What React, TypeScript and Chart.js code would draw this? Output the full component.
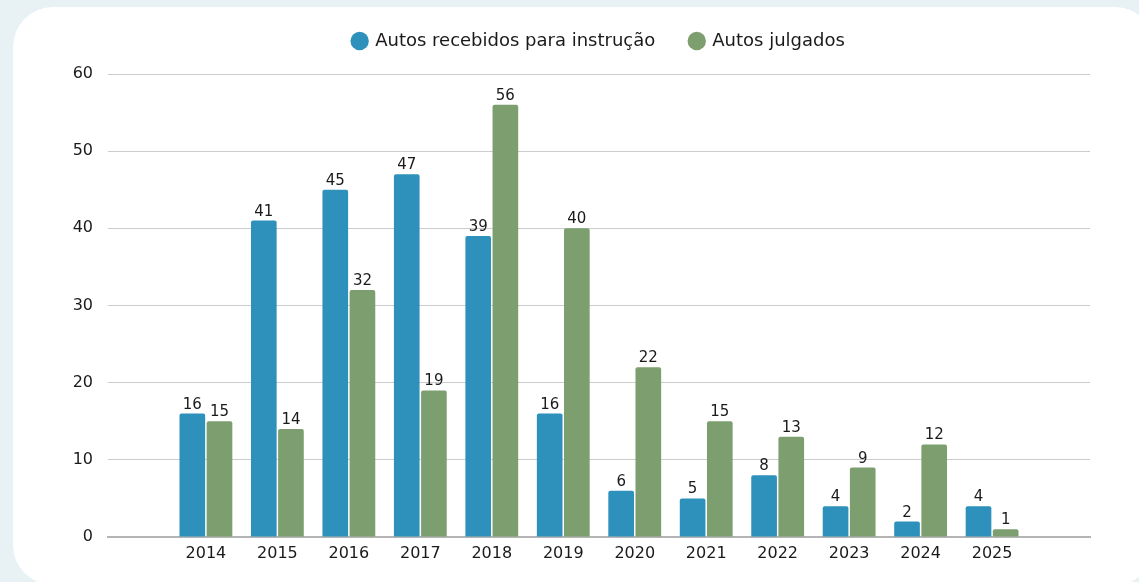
import React, { useEffect, useRef } from 'react';
import { Chart, registerables } from 'chart.js';

Chart.register(...registerables);

const YEARS = ['2014', '2015', '2016', '2017', '2018', '2019', '2020', '2021', '2022', '2023', '2024', '2025'];
const RECEBIDOS = [16, 41, 45, 47, 39, 16, 6, 5, 8, 4, 2, 4];
const JULGADOS = [15, 14, 32, 19, 56, 40, 22, 15, 13, 9, 12, 1];
const SERIES_NAMES = ['Autos recebidos para instrução', 'Autos julgados'];
const Y_MIN = 0;
const Y_MAX = 60;
const Y_STEP = 10;

const FONT = "'DejaVu Sans', sans-serif";
const BLUE = '#2e91bb';
const GREEN = '#7d9e6f';
const TEXT = '#1a1a1a';

const valueLabels = {
  id: 'valueLabels',
  afterDatasetsDraw(chart: any) {
    const ctx = chart.ctx;
    ctx.save();
    ctx.font = `15px ${FONT}`;
    ctx.fillStyle = TEXT;
    ctx.textAlign = 'center';
    ctx.textBaseline = 'alphabetic';
    chart.data.datasets.forEach((ds: any, di: number) => {
      const meta = chart.getDatasetMeta(di);
      meta.data.forEach((el: any, i: number) => {
        const v = ds.data[i].y;
        ctx.fillText(String(v), el.x, el.y - 5);
      });
    });
    ctx.restore();
  },
};

const legendHeight = {
  id: 'legendHeight',
  afterInit(chart: any) {
    const lg = chart.legend;
    if (!lg) return;
    const fit = lg.fit;
    lg.fit = function () {
      fit.call(this);
      this.height = 77;
    };
  },
};

export default function App() {
  const ref = useRef<HTMLCanvasElement | null>(null);

  useEffect(() => {
    if (!ref.current) return;
    const chart = new Chart(ref.current, {
      type: 'bar',
      data: {
        datasets: [
          {
            label: SERIES_NAMES[0],
            data: RECEBIDOS.map((v, i) => ({ x: i, y: v })),
            backgroundColor: BLUE,
            borderWidth: 0,
            borderRadius: 2,
            borderSkipped: 'bottom',
            categoryPercentage: 0.76,
            barPercentage: 0.945,
          },
          {
            label: SERIES_NAMES[1],
            data: JULGADOS.map((v, i) => ({ x: i, y: v })),
            backgroundColor: GREEN,
            borderWidth: 0,
            borderRadius: 2,
            borderSkipped: 'bottom',
            categoryPercentage: 0.76,
            barPercentage: 0.945,
          },
        ],
      } as any,
      options: {
        animation: false,
        responsive: false,
        devicePixelRatio: 1,
        layout: { padding: { left: 0, right: 49, top: -3, bottom: 0 } },
        plugins: {
          legend: {
            position: 'top',
            fullSize: false,
            labels: {
              usePointStyle: true,
              pointStyle: 'circle',
              boxWidth: 13,
              boxHeight: 13,
              padding: 35,
              color: TEXT,
              font: { family: FONT, size: 18 },
            },
          },
          tooltip: { enabled: false },
        },
        scales: {
          x: {
            type: 'linear',
            min: -1.37,
            max: 12.37,
            offset: false,
            bounds: 'data',
            grid: { display: false, drawTicks: false, offset: false },
            border: { display: true, color: '#b4b4b4', width: 2 },
            ticks: {
              color: TEXT,
              font: { family: FONT, size: 16 },
              padding: 7,
              autoSkip: false,
              maxRotation: 0,
              callback: (v: any) => (YEARS[v] !== undefined ? YEARS[v] : ''),
            },
            afterBuildTicks: (s: any) => {
              s.ticks = YEARS.map((_, i) => ({ value: i }));
            },
            afterFit: (s: any) => {
              s.height = 45;
            },
          },
          y: {
            min: Y_MIN,
            max: Y_MAX,
            grid: { color: '#cccccc', drawTicks: false, lineWidth: 1 },
            border: { display: false },
            ticks: {
              stepSize: Y_STEP,
              color: TEXT,
              font: { family: FONT, size: 16 },
              padding: 15,
            },
            afterFit: (s: any) => {
              s.width = 108;
            },
          },
        },
      } as any,
      plugins: [valueLabels, legendHeight],
    });
    return () => chart.destroy();
  }, []);

  return (
    <div
      style={{
        position: 'fixed',
        left: 0,
        top: 0,
        width: 1139,
        height: 582,
        overflow: 'hidden',
        background: '#e8f1f4',
      }}
    >
      <div
        style={{
          position: 'absolute',
          left: 13,
          top: 7,
          width: 1142,
          height: 578,
          borderRadius: 40,
          background: '#ffffff',
        }}
      />
      <canvas
        ref={ref}
        width={1139}
        height={582}
        style={{ position: 'absolute', left: 0, top: 0, width: 1139, height: 582 }}
      />
    </div>
  );
}
